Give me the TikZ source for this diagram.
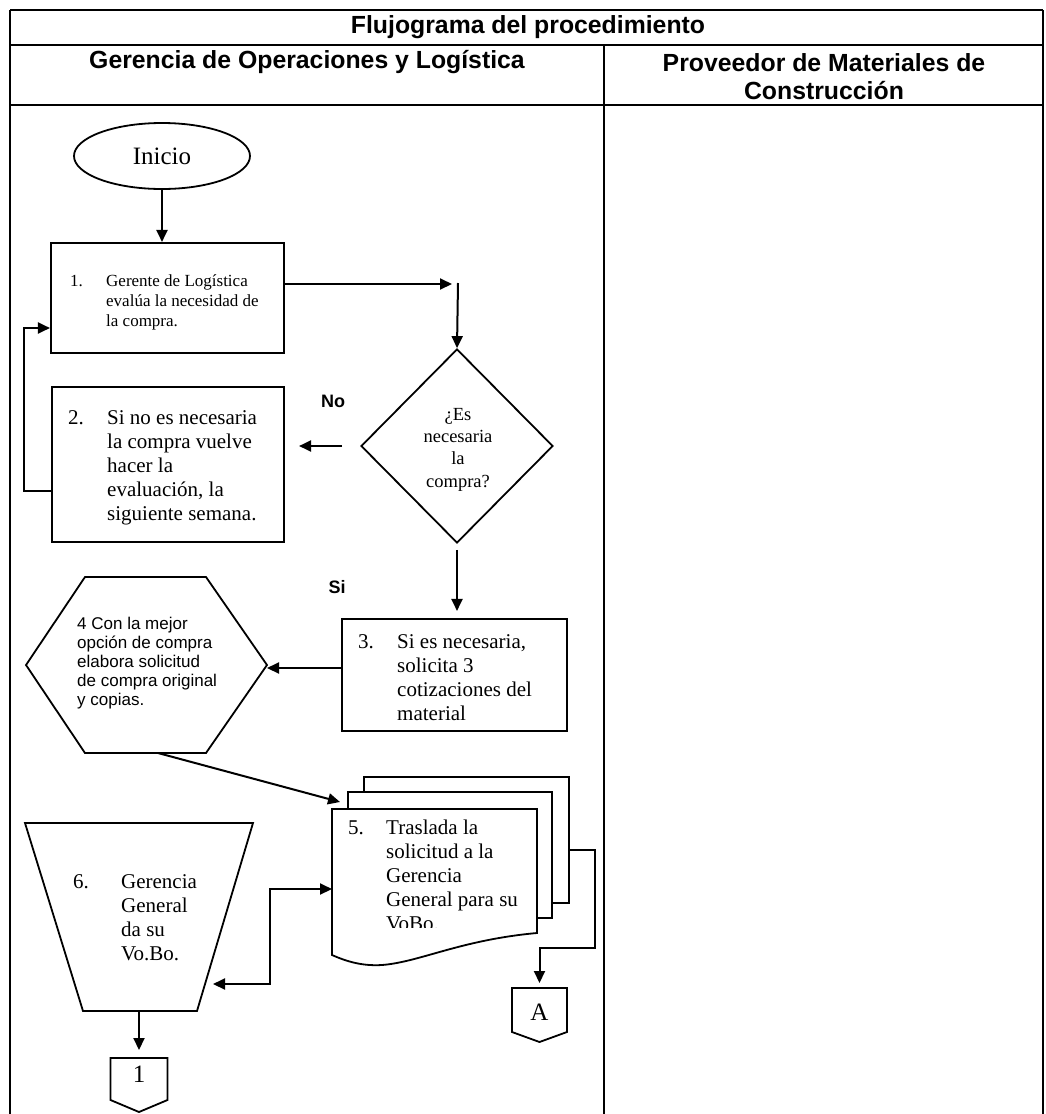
\documentclass[tikz,border=0pt]{standalone}
\usepackage{fontspec}
\setmainfont{Liberation Serif}
\newfontfamily\arialfont{Liberation Sans}
\usetikzlibrary{shapes.geometric,arrows.meta,calc}

\begin{document}
\begin{tikzpicture}[x=1pt,y=-1pt,
  lane/.style={line width=1.5pt},
  box/.style={draw, line width=2.1pt, rectangle, inner sep=0pt},
  shp/.style={draw, line width=1.8pt, fill=white},
  page/.style={draw, line width=1.8pt, fill=white, rectangle, inner sep=0pt},
  ghost/.style={inner sep=0pt, outer sep=0pt},
  tip/.tip={Triangle[length=12pt,width=11pt]},
  arr/.style={line width=2pt, -tip},
  biarr/.style={line width=2pt, tip-tip},
  head/.style={font=\arialfont\bfseries\fontsize{24.8}{28}\selectfont, align=center, inner sep=0pt},
  lbl/.style={font=\arialfont\bfseries\fontsize{18}{20}\selectfont, inner sep=0pt},
  big/.style={font=\fontsize{21}{24}\selectfont, inner sep=0pt, anchor=west},
  small/.style={font=\fontsize{17}{20}\selectfont, inner sep=0pt, anchor=west},
]
\useasboundingbox (0,0) rectangle (1045,1114);

% swimlane table
\draw[lane] (10,10) -- (1043,10);
\draw[lane] (10,45) -- (1043,45);
\draw[lane] (10,105) -- (1043,105);
\draw[lane] (10,10) -- (10,1114);
\draw[lane] (1043,10) -- (1043,1114);
\draw[lane] (604,45) -- (604,1114);

\node[head] (title) at (528,27) {Flujograma del procedimiento};
\node[head] (lane1) at (307,62) {Gerencia de Operaciones y Logística};
\node[head] (lane2) at (824,77) {Proveedor de Materiales de\\Construcción};

% start
\node[draw, ellipse, line width=1.8pt, minimum width=176pt, minimum height=66pt,
      inner sep=0pt, font=\fontsize{25}{28}\selectfont] (ini) at (162,156) {Inicio};

% step 1
\node[box, minimum width=233pt, minimum height=110pt] (b1) at (167.5,298) {};
\node[small] (b1t) at (70,302) {\begin{tabular}{@{}p{36pt}@{}l@{}}1. & Gerente de Logística\\ & evalúa la necesidad de\\ & la compra.\end{tabular}};

% step 2
\node[box, minimum width=232pt, minimum height=155pt] (b2) at (168,464.5) {};
\node[big] (b2t) at (68,468) {\begin{tabular}{@{}p{39pt}@{}l@{}}2. & Si no es necesaria\\ & la compra vuelve\\ & hacer la\\ & evaluación, la\\ & siguiente semana.\end{tabular}};

% decision
\node[draw, diamond, line width=1.8pt, minimum width=192pt, minimum height=194pt,
      inner sep=0pt] (dia) at (457,446) {};
\node[inner sep=0pt, align=center, font=\fontsize{18.5}{22.3}\selectfont] (diat) at (458,449.5)
      {¿Es\\necesaria\\la\\compra?};
\node[lbl] (no) at (333,401) {No};
\node[lbl] (si) at (337,587) {Si};

% step 3
\node[box, minimum width=225pt, minimum height=112pt] (b3) at (454.5,675) {};
\node[big] (b3t) at (358,679.5) {\begin{tabular}{@{}p{39pt}@{}l@{}}3. & Si es necesaria,\\ & solicita 3\\ & cotizaciones del\\ & material\end{tabular}};

% step 4 (hexagon)
\node[ghost, minimum width=241pt, minimum height=176pt] (h4) at (146.5,665) {};
\draw[shp] (h4.west) -- ($(h4.north west)+(59,0)$) -- ($(h4.north east)+(-61,0)$)
  -- (h4.east) -- ($(h4.south east)+(-61,0)$) -- ($(h4.south west)+(59,0)$) -- cycle;
\node[font=\arialfont\fontsize{17}{19}\selectfont, inner sep=0pt, anchor=west] (h4t) at (77,664)
  {\begin{tabular}{@{}l@{}}4 Con la mejor\\opción de compra\\elabora solicitud\\de compra original\\y copias.\end{tabular}};

% step 5 (stacked documents)
\node[page, minimum width=205pt, minimum height=126pt] (p3) at (466.5,840) {};
\node[page, minimum width=204pt, minimum height=126pt] (p2) at (450,855) {};
\node[ghost, minimum width=205pt, minimum height=146pt] (d5) at (434.5,882) {};
\draw[shp] (332,809) -- (537,809) -- (537,933)
  .. controls (460,940) and (420,962) .. (382,965)
  .. controls (365,966) and (350,963) .. (332,955) -- cycle;
\begin{scope}
  \clip (332,809) rectangle (537,927);
  \node[big] (d5t) at (348,878) {\begin{tabular}{@{}p{38pt}@{}l@{}}5. & Traslada la\\ & solicitud a la\\ & Gerencia\\ & General para su\\ & VoBo.\end{tabular}};
\end{scope}

% step 6 (trapezoid)
\node[ghost, minimum width=228pt, minimum height=188pt] (t6) at (139,917) {};
\draw[shp] (25,823) -- (253,823) -- (197,1011) -- (83,1011) -- cycle;
\node[big] (t6t) at (73,920) {\begin{tabular}{@{}p{48pt}@{}l@{}}6. & Gerencia\\ & General\\ & da su\\ & Vo.Bo.\end{tabular}};
\coordinate (t6in) at (213,984);

% off-page connectors
\node[ghost, minimum width=57pt, minimum height=42pt] (c1) at (139,1079) {};
\draw[shp] (c1.north west) -- (c1.north east) -- (c1.south east) -- ($(c1.south)+(0,12)$) -- (c1.south west) -- cycle;
\node[font=\fontsize{25}{28}\selectfont, inner sep=0pt] (c1t) at (139,1074) {1};

\node[ghost, minimum width=55pt, minimum height=44pt] (cA) at (539.5,1010) {};
\draw[shp] (cA.north west) -- (cA.north east) -- (cA.south east) -- ($(cA.south)+(0,10)$) -- (cA.south west) -- cycle;
\node[font=\fontsize{25}{28}\selectfont, inner sep=0pt] (cAt) at (539.5,1012) {A};

% connectors
\coordinate (k1) at (452,284);
\coordinate (k2) at (458,283);
\draw[arr] (ini.south) -- (ini.south |- b1.north);
\draw[arr] ([yshift=14pt]b1.east) -- (k1);
\draw[arr] (k2) -- (dia.north);
\draw[arr] ([xshift=-18pt]dia.west) -- ([xshift=14pt]b2.east |- dia.west);
\draw[arr] ([yshift=-26.5pt]b2.west) -- ++(-27,0) |- ([yshift=-30pt]b1.west);
\draw[arr, shorten <=6pt, shorten >=7pt] (dia.south) -- (dia.south |- b3.north);
\draw[arr] ([yshift=7pt]b3.west) -- ([yshift=7pt]b3.west -| h4.east);
\draw[arr] ([xshift=11.5pt]h4.south) -- ($(d5.north west)+(8,-7)$);
\draw[biarr] (t6in) -- ++(57,0) |- ([yshift=-7pt]d5.west);
\draw[arr, shorten >=5pt] ([yshift=-10pt]p3.east) -- ++(25,0) -- ++(0,98) -| (cA.north);
\draw[arr, shorten >=8pt] (t6.south) -- (c1.north);
\end{tikzpicture}
\end{document}
